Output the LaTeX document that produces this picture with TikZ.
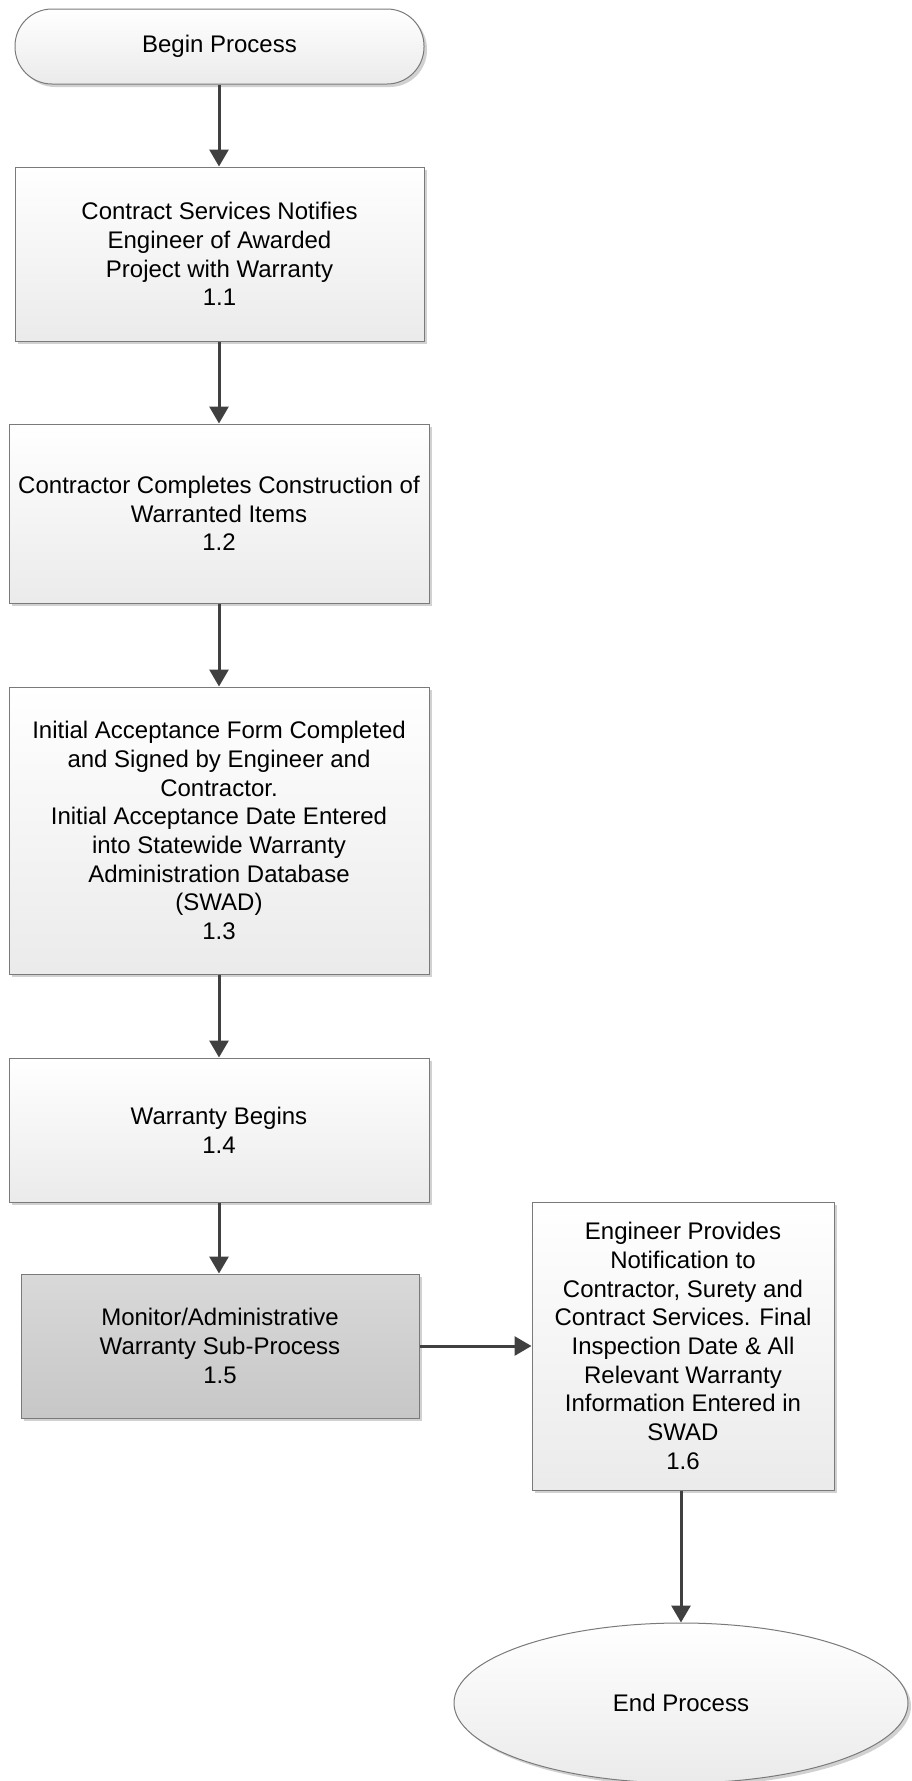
\documentclass[tikz,border=0pt]{standalone}
\usepackage{fontspec}
\setmainfont{Liberation Sans}
\usetikzlibrary{arrows.meta,shapes.geometric,shadows}
\definecolor{edgegray}{HTML}{7A7A7A}
\definecolor{linegray}{HTML}{404040}
\begin{document}
\begin{tikzpicture}[x=1pt,y=-1pt,
  every node/.style={font=\fontsize{24}{28.7}\selectfont, align=center, inner sep=2pt},
  boxbase/.style={draw=edgegray, line width=1pt,
    drop shadow={shadow xshift=3pt, shadow yshift=-3pt, fill=black!18, opacity=1}},
  procbox/.style={boxbase, rectangle, top color=white, bottom color=black!8},
  subbox/.style={boxbase, rectangle, top color=black!15, bottom color=black!22},
  termbox/.style={boxbase, rectangle, rounded corners=37pt, top color=white, bottom color=black!8},
  endbox/.style={boxbase, ellipse, top color=white, bottom color=black!8},
  flow/.style={draw=linegray, line width=3pt, -{Triangle[length=17pt,width=19pt]}}
]
\useasboundingbox (0,0) rectangle (912,1781);

\node[termbox, minimum width=409pt, minimum height=75pt] (begin) at (219.5,46.5) {Begin Process};

\node[procbox, minimum width=409pt, minimum height=174pt] (n11) at (219.5,254) {Contract Services Notifies\\Engineer of Awarded\\Project with Warranty\\1.1};

\node[procbox, minimum width=420pt, minimum height=179pt] (n12) at (219,513.5) {Contractor Completes Construction of\\Warranted Items\\1.2};

\node[procbox, minimum width=420pt, minimum height=287pt] (n13) at (219,830.5) {Initial Acceptance Form Completed\\and Signed by Engineer and\\Contractor.\\Initial Acceptance Date Entered\\into Statewide Warranty\\Administration Database\\(SWAD)\\1.3};

\node[procbox, minimum width=420pt, minimum height=144pt] (n14) at (219,1130) {Warranty Begins\\1.4};

\node[subbox, minimum width=398pt, minimum height=144pt] (n15) at (220,1346) {Monitor/Administrative\\Warranty Sub-Process\\1.5};

\node[procbox, minimum width=302pt, minimum height=288pt] (n16) at (683,1346) {Engineer Provides\\Notification to\\Contractor, Surety and\\Contract Services. Final\\Inspection Date \& All\\Relevant Warranty\\Information Entered in\\SWAD\\1.6};

\node[endbox, minimum width=454pt, minimum height=160pt] (end) at (681,1703) {End Process};

\draw[flow] (begin.south -| 219,0) -- (n11.north -| 219,0);
\draw[flow] (n11.south -| 219,0) -- (n12.north -| 219,0);
\draw[flow] (n12.south -| 219,0) -- (n13.north -| 219,0);
\draw[flow] (n13.south -| 219,0) -- (n14.north -| 219,0);
\draw[flow] (n14.south -| 219,0) -- (n15.north -| 219,0);
\draw[flow] (n15.east) -- (n16.west |- n15.east);
\draw[flow] (n16.south -| end.north) -- (end.north);
\end{tikzpicture}
\end{document}
